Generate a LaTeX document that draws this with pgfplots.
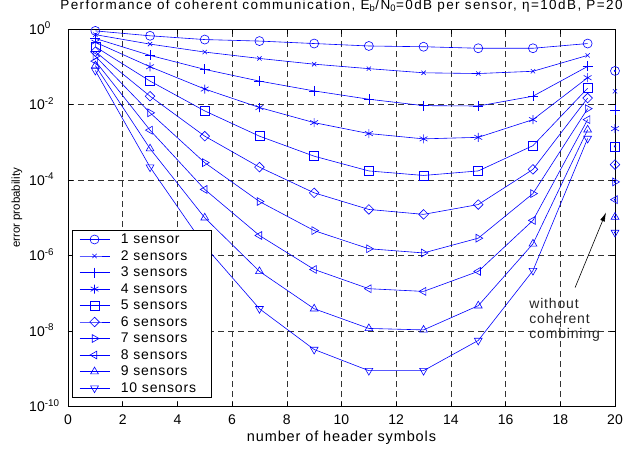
\documentclass[border=0pt]{standalone}
\usepackage{pgfplots}
\pgfplotsset{compat=1.18}
\usetikzlibrary{arrows.meta}
\usepackage{fontspec}
\setmainfont{Liberation Sans}
\newfontfamily\spaced{Liberation Sans}[LetterSpace=6]
\newfontfamily\titlefont{Liberation Sans}[LetterSpace=10.5]

\begin{document}
\begin{tikzpicture}
\begin{axis}[
  scale only axis, width=547pt, height=377.5pt,
  ymode=log, xmin=0, xmax=20, ymin=1e-10, ymax=1,
  xtick={0,2,...,20},
  ytick={1e-10,1e-8,1e-6,1e-4,1e-2,1},
  yticklabels={{10\rlap{\textsuperscript{-10}}},{10\rlap{\textsuperscript{-8}}},{10\rlap{\textsuperscript{-6}}},{10\rlap{\textsuperscript{-4}}},{10\rlap{\textsuperscript{-2}}},{10\rlap{\textsuperscript{0}}}},
  yminorticks=false,
  /pgf/number format/assume math mode=true,
  tick align=inside, major tick length=5pt,
  tick style={black, line width=0.6pt},
  axis line style={black, line width=0.9pt},
  grid=major,
  major grid style={black!80, line width=0.6pt, dash pattern=on 6pt off 4pt},
  xticklabel style={font=\fontsize{14}{14}\selectfont, anchor=base, yshift=-17.5pt, inner sep=0pt},
  yticklabel style={font=\fontsize{14}{14}\selectfont, anchor=base east, xshift=-23pt, yshift=-5pt, inner sep=0pt},
  xlabel={number of header symbols},
  xlabel style={font=\spaced\fontsize{14.5}{16}\selectfont, at={(axis description cs:0.5,0)}, anchor=base, yshift=-34.5pt, inner sep=0pt},
  clip=false,
  every axis plot/.append style={blue, line width=0.6pt, mark size=4.5pt},
  legend style={at={(axis description cs:0.007,0.022)}, anchor=south west,
    draw=black, line width=0.8pt, fill=white,
    font=\spaced\fontsize{14}{16}\selectfont, row sep=1.3pt, column sep=9pt,
    inner xsep=7pt, inner ysep=2pt},
  legend cell align=left,
  legend image code/.code={\draw[mark repeat=2,mark phase=2,#1] plot coordinates {(0pt,0pt) (15pt,0pt) (30pt,0pt)};},
]
\addplot[mark=o] coordinates {(1,0.891) (3,0.661) (5,0.525) (7,0.479) (9,0.412) (11,0.355) (13,0.339) (15,0.309) (17,0.309) (19,0.412)};
\addlegendentry{1 sensor\hspace*{6pt}}
\addplot[mark=x, mark size=3pt] coordinates {(1,0.708) (3,0.398) (5,0.245) (7,0.166) (9,0.117) (11,0.0891) (13,0.0692) (15,0.0661) (17,0.0759) (19,0.200)};
\addlegendentry{2 sensors\hspace*{6pt}}
\addplot[mark=+, mark size=5pt] coordinates {(1,0.562) (3,0.200) (5,0.0851) (7,0.0417) (9,0.0229) (11,0.0138) (13,0.00933) (15,0.00912) (17,0.0166) (19,0.102)};
\addlegendentry{3 sensors\hspace*{6pt}}
\addplot[mark=asterisk] coordinates {(1,0.447) (3,0.100) (5,0.0257) (7,0.00832) (9,0.00331) (11,0.00170) (13,0.00123) (15,0.00135) (17,0.00398) (19,0.0513)};
\addlegendentry{4 sensors\hspace*{6pt}}
\addplot[mark=square] coordinates {(1,0.339) (3,0.0417) (5,0.00676) (7,0.00145) (9,4.27e-4) (11,1.74e-4) (13,1.32e-4) (15,1.74e-4) (17,8.13e-4) (19,0.0269)};
\addlegendentry{5 sensors\hspace*{6pt}}
\addplot[mark=square, mark size=3.4pt, mark options={rotate=45}] coordinates {(1,0.251) (3,0.0166) (5,0.00145) (7,2.19e-4) (9,4.57e-5) (11,1.66e-5) (13,1.23e-5) (15,2.24e-5) (17,1.91e-4) (19,0.0148)};
\addlegendentry{6 sensors\hspace*{6pt}}
\addplot[mark=triangle, mark options={rotate=-90}] coordinates {(1,0.191) (3,0.00603) (5,2.88e-4) (7,2.69e-5) (9,4.57e-6) (11,1.51e-6) (13,1.17e-6) (15,2.88e-6) (17,4.37e-5) (19,0.00776)};
\addlegendentry{7 sensors\hspace*{6pt}}
\addplot[mark=triangle, mark options={rotate=90}] coordinates {(1,0.141) (3,0.00209) (5,5.62e-5) (7,3.39e-6) (9,4.27e-7) (11,1.32e-7) (13,1.12e-7) (15,3.80e-7) (17,8.51e-6) (19,0.00398)};
\addlegendentry{8 sensors\hspace*{6pt}}
\addplot[mark=triangle] coordinates {(1,0.107) (3,6.76e-4) (5,1.0e-5) (7,3.80e-7) (9,3.89e-8) (11,1.17e-8) (13,1.07e-8) (15,4.68e-8) (17,2.04e-6) (19,0.00214)};
\addlegendentry{9 sensors\hspace*{6pt}}
\addplot[mark=triangle, mark options={rotate=180}] coordinates {(1,0.0794) (3,2.19e-4) (5,1.78e-6) (7,3.89e-8) (9,3.24e-9) (11,8.91e-10) (13,8.91e-10) (15,5.62e-9) (17,3.98e-7) (19,0.00126)};
\addlegendentry{10 sensors\hspace*{6pt}}
% without coherent combining
\addplot[only marks, forget plot, mark=o, mark options={fill=white}] coordinates {(20,0.0776)};
\addplot[only marks, forget plot, mark=x, mark size=3pt] coordinates {(20,0.0224)};
\addplot[only marks, forget plot, mark=+, mark size=5pt] coordinates {(20,0.00708)};
\addplot[only marks, forget plot, mark=asterisk] coordinates {(20,0.00229)};
\addplot[only marks, forget plot, mark=square, mark options={fill=white}] coordinates {(20,7.76e-4)};
\addplot[only marks, forget plot, mark=square, mark size=3.4pt, mark options={rotate=45, fill=white}] coordinates {(20,2.57e-4)};
\addplot[only marks, forget plot, mark=triangle, mark options={rotate=-90, fill=white}] coordinates {(20,8.91e-5)};
\addplot[only marks, forget plot, mark=triangle, mark options={rotate=90, fill=white}] coordinates {(20,3.02e-5)};
\addplot[only marks, forget plot, mark=triangle, mark options={fill=white}] coordinates {(20,1.05e-5)};
\addplot[only marks, forget plot, mark=triangle, mark options={rotate=180, fill=white}] coordinates {(20,4.07e-6)};
\addplot[only marks, forget plot, mark=*, mark size=0.8pt] coordinates {(20,0.0776) (20,7.76e-4) (20,2.57e-4) (20,8.91e-5) (20,3.02e-5) (20,1.05e-5) (20,4.07e-6)};
\draw[-{Latex[length=9pt,width=5pt]}, black, line width=0.6pt] (axis cs:18.54,1.41e-7) -- (axis cs:19.67,1.38e-5);
\node[anchor=north west, align=left, inner sep=0pt, text=black!85, font=\spaced\fontsize{14}{15}\selectfont] at (axis cs:16.86,7.2e-8) {without\\coherent\\combining};
% title and y label
\node[anchor=base, inner sep=0pt, font=\titlefont\fontsize{13.5}{15}\selectfont] at ([yshift=19.5pt]rel axis cs:0.5,1) {Performance of coherent communication, E\textsubscript{b}/N\textsubscript{0}=0dB per sensor, η=10dB, P=20};
\node[rotate=90, anchor=base, inner sep=0pt, font=\fontsize{11.5}{12}\selectfont] at ([xshift=-48pt]rel axis cs:0,0.526) {error probability};
\end{axis}
\pgfresetboundingbox
\path[use as bounding box] (-68pt,-41.5pt) rectangle (566pt,406.5pt);
\end{tikzpicture}
\end{document}
